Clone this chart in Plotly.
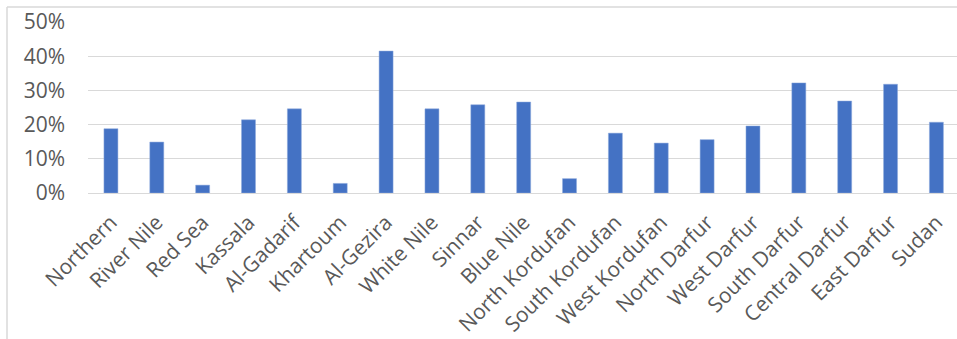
import plotly.graph_objects as go

states = ["Northern", "River Nile", "Red Sea", "Kassala", "Al-Gadarif", "Khartoum",
          "Al-Gezira", "White Nile", "Sinnar", "Blue Nile", "North Kordufan",
          "South Kordufan", "West Kordufan", "North Darfur", "West Darfur",
          "South Darfur", "Central Darfur", "East Darfur", "Sudan"]
share = [0.188, 0.149, 0.023, 0.214, 0.246, 0.028,
         0.415, 0.246, 0.258, 0.266, 0.042,
         0.175, 0.146, 0.156, 0.196,
         0.322, 0.269, 0.318, 0.207]
y_ticks = [0, 0.1, 0.2, 0.3, 0.4, 0.5]

W, H = 957, 339
L, R, T, B = 88, 0, 22, 146

fig = go.Figure()
fig.add_trace(go.Bar(x=states, y=share, marker_color="#4472C4",
                     marker_line=dict(color="#8FAADC", width=0.5)))

font = dict(family="Open Sans", size=21, color="#595959")

# chart border (cropped on the right and bottom in the original)
pw = W - L - R
ph = H - T - B
bx = (7 - L) / pw
by = 1 + (T - 7) / ph
fig.add_shape(type="line", xref="paper", yref="paper", x0=bx, x1=1.1, y0=by, y1=by,
              line=dict(color="#D9D9D9", width=1.5))
fig.add_shape(type="line", xref="paper", yref="paper", x0=bx, x1=bx, y0=by, y1=-1.2,
              line=dict(color="#D9D9D9", width=1.5))

fig.update_layout(
    width=W, height=H,
    margin=dict(l=L, r=R, t=T, b=B, autoexpand=False),
    plot_bgcolor="white", paper_bgcolor="white",
    bargap=0.695, showlegend=False,
    font=font,
)
fig.update_xaxes(range=[-0.5, -0.5 + pw / 45.86], tickangle=-45, tickfont=font,
                 showgrid=False, ticks="", showline=False, ticklabelstandoff=12,
                 automargin=False)
fig.update_yaxes(range=[0, 0.5], tickvals=y_ticks, tickformat=".0%", tickfont=font,
                 gridcolor="#D9D9D9", gridwidth=1.3, zeroline=True,
                 zerolinecolor="#D9D9D9", zerolinewidth=1.3, ticks="",
                 ticklabelstandoff=22, automargin=False)

# drop the page's default body margin so the figure sits at the top-left corner
fig.write_html("out.html", config={"displayModeBar": False},
               post_script="document.body.style.margin='0';")
